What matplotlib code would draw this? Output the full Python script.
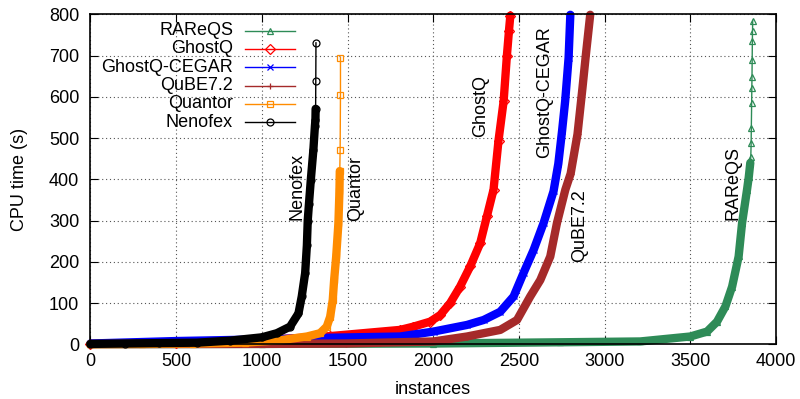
import matplotlib
matplotlib.use("Agg")
import matplotlib.pyplot as plt

plt.rcParams["font.family"] = ["Liberation Sans", "DejaVu Sans"]
plt.rcParams["font.size"] = 13

# sorted CPU times per solver (instance index, seconds)
rareqs_x = [0, 1000, 2000, 2740, 3208, 3500, 3598, 3656, 3705, 3744, 3782, 3802,
            3831, 3841, 3850, 3853, 3855, 3856, 3858, 3859, 3860, 3861, 3862, 3863, 3864]
rareqs_y = [0.5, 1, 2, 5, 7, 19, 31, 55, 92, 140, 213, 294,
            375, 405, 440, 455, 489, 525, 586, 622, 649, 690, 735, 759, 785]

ghostq_x = [0, 500, 1000, 1400, 1807, 1885, 1982, 2041, 2099, 2157, 2216, 2274,
            2313, 2352, 2381, 2411, 2430, 2442, 2450]
ghostq_y = [1, 4, 10, 20, 35, 43, 55, 71, 100, 140, 189, 245,
            310, 375, 494, 590, 700, 760, 797]

cegar_x = [0, 500, 1000, 1393, 1807, 2002, 2197, 2294, 2391, 2469, 2527, 2586,
           2644, 2702, 2730, 2752, 2770, 2790, 2800]
cegar_y = [2, 8, 12, 16, 19, 31, 47, 59, 79, 116, 173, 229,
           294, 371, 438, 518, 590, 695, 799]

qube_x = [0, 996, 1492, 1691, 2002, 2197, 2391, 2489, 2566, 2625, 2683, 2722,
          2771, 2802, 2842, 2871, 2891, 2916]
qube_y = [0.5, 1, 2, 4, 7, 19, 35, 59, 116, 156, 213, 294,
          375, 414, 510, 622, 703, 799]

quantor_x = [0, 300, 600, 900, 1107, 1263, 1340, 1379, 1399, 1414, 1422, 1434,
             1447, 1453, 1455, 1457, 1459, 1459]
quantor_y = [0.5, 1, 2, 4, 10, 19, 27, 43, 67, 108, 156, 213,
             294, 371, 420, 470, 605, 695]

nenofex_x = [0, 200, 400, 620, 815, 1000, 1088, 1165, 1214, 1233, 1253, 1263,
             1268, 1275, 1286, 1301, 1310, 1313, 1314, 1315, 1316]
nenofex_y = [1, 2, 3, 4, 9, 17, 27, 43, 75, 116, 173, 240,
             300, 340, 399, 472, 530, 545, 571, 639, 731]

series = [
    ("RAReQS", rareqs_x, rareqs_y, "#2e8b57", "^", 10, (3748, 302)),
    ("GhostQ", ghostq_x, ghostq_y, "#ff0000", "D", 0, (2277, 503)),
    ("GhostQ-CEGAR", cegar_x, cegar_y, "#0000ff", "x", 0, (2651, 452)),
    ("QuBE7.2", qube_x, qube_y, "#a52a2a", "+", 0, (2855, 200)),
    ("Quantor", quantor_x, quantor_y, "#ff8c00", "s", 3, (1550, 300)),
    ("Nenofex", nenofex_x, nenofex_y, "#000000", "o", 2, (1206, 302)),
]

fig, ax = plt.subplots(figsize=(8, 3.99), dpi=100)
fig.subplots_adjust(left=0.113, right=0.970, bottom=0.137, top=0.964)

for name, xs, ys, color, marker, tail, (lx, ly) in series:
    n = len(xs) - tail
    # dense part: markers overlap into a solid band (gnuplot does not clip points)
    ax.plot(xs[:n], ys[:n], color=color, lw=6, solid_capstyle="round",
            solid_joinstyle="round", zorder=3, clip_on=False)
    ax.plot(xs, ys, color=color, lw=1, marker=marker, markersize=5,
            markerfacecolor="none", markeredgewidth=0.9, zorder=3, clip_on=False)
    ax.text(lx, ly, name, rotation=90, rotation_mode="anchor",
            ha="left", va="center", zorder=5)

# gnuplot-style legend: right-aligned text, sample line on the right
for i, (name, xs, ys, color, marker, tail, _) in enumerate(series):
    yy = 0.9506 - i * 0.0555
    ax.text(0.208, yy, name, transform=ax.transAxes, ha="right", va="center")
    ax.plot([0.2255, 0.2984], [yy, yy], color=color, lw=1,
            transform=ax.transAxes, zorder=4)
    ax.plot([0.262], [yy], color=color, marker=marker, markersize=5,
            markerfacecolor="none", markeredgewidth=0.9,
            transform=ax.transAxes, zorder=4)

ax.set_xlim(0, 4000)
ax.set_ylim(0, 800)
ax.set_xticks(range(0, 4001, 500))
ax.set_yticks(range(0, 801, 100))
ax.tick_params(direction="in", length=6, top=True, right=True)
ax.tick_params(axis="x", pad=6)
ax.tick_params(axis="y", pad=8)
ax.grid(True, color="#555555", linestyle=(0, (1, 2.5)), lw=0.8)
ax.set_axisbelow(True)
ax.set_xlabel("instances", labelpad=8)
ax.set_ylabel("CPU time (s)", labelpad=15)
for sp in ax.spines.values():
    sp.set_linewidth(1.2)
    sp.set_zorder(6)

fig.savefig("out.png", dpi=100)
